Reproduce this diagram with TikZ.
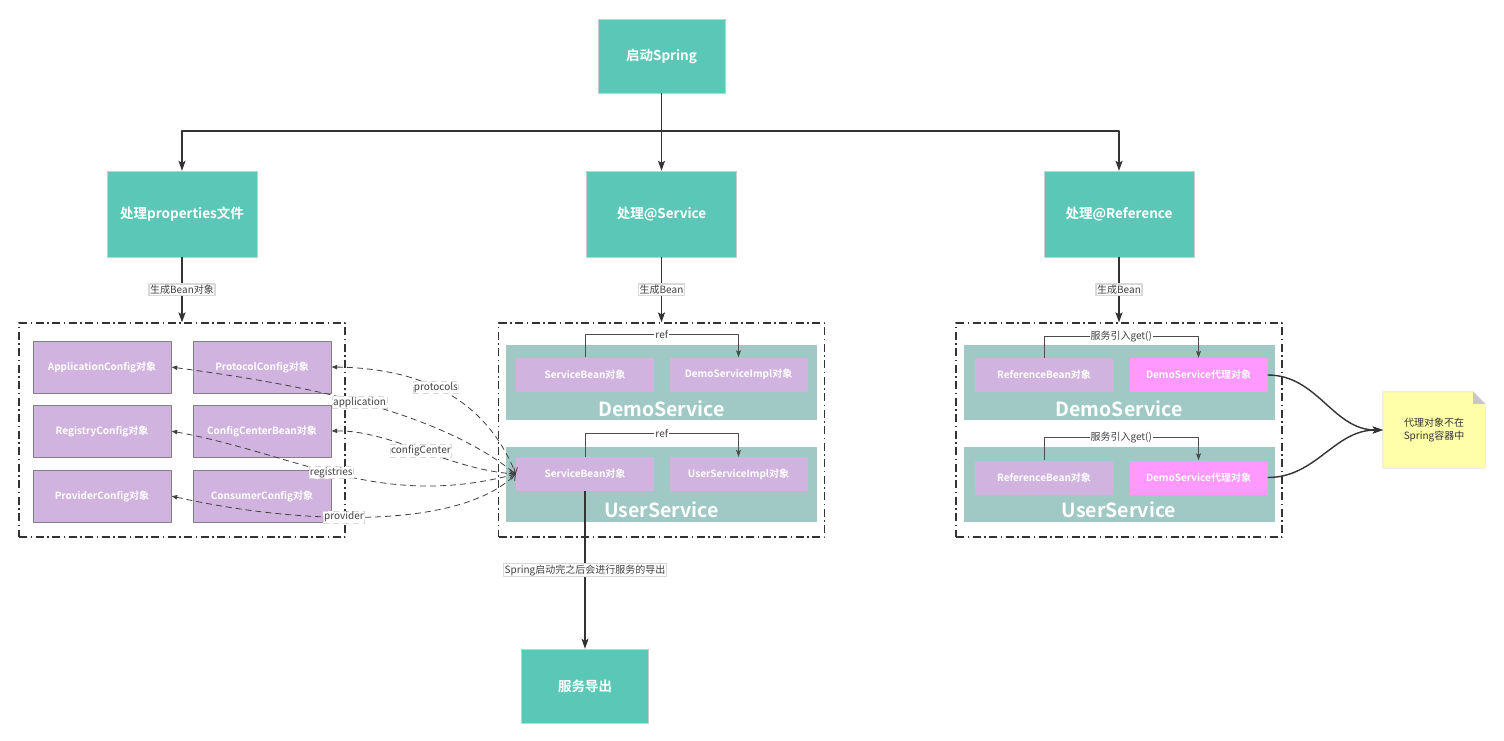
\documentclass[tikz,border=0pt]{standalone}
\usepackage{fontspec}
\setmainfont{Noto Sans CJK SC}[BoldFont={Noto Sans CJK SC Bold}]
\usetikzlibrary{arrows.meta,calc,positioning,backgrounds}
\definecolor{topteal}{RGB}{91,200,183}
\definecolor{grpteal}{RGB}{160,201,198}
\definecolor{lilac}{RGB}{209,179,223}
\definecolor{pinky}{RGB}{255,153,255}
\definecolor{noteyel}{RGB}{255,255,170}
\definecolor{line}{RGB}{51,51,51}
\begin{document}
\begin{tikzpicture}[x=1pt, y=-1pt, line join=round, >={Stealth[length=10pt,width=7pt,inset=2pt]},
	topbox/.style={draw=black!20, fill=topteal, text=white, font=\bfseries\fontsize{13.5}{15}\selectfont, minimum width=150pt, minimum height=86pt, inner sep=0pt},
	dashframe/.style={draw=line, line width=1.2pt, dash pattern=on 8pt off 3.5pt on 1.5pt off 3.5pt, minimum width=326pt, minimum height=214pt, inner sep=0pt},
	cfgbox/.style={draw=black!50, fill=lilac, text=white, font=\bfseries\fontsize{10}{12}\selectfont, minimum width=138pt, minimum height=52pt, inner sep=0pt},
	grp/.style={fill=grpteal, minimum width=311pt, minimum height=75pt, inner sep=0pt},
	biglbl/.style={text=white, font=\bfseries\fontsize{19.5}{21}\selectfont, inner sep=0pt},
	inbox/.style={fill=lilac, text=white, font=\bfseries\fontsize{10}{12}\selectfont, minimum width=138pt, minimum height=34pt, inner sep=0pt},
	pxbox/.style={inbox, fill=pinky},
	main/.style={draw=line, line width=1.4pt, ->},
	refln/.style={draw=black!70, line width=0.8pt, -{Stealth[length=7pt,width=5pt,inset=1.5pt]}},
	elbl/.style={fill=white, draw=black!15, text=black!75, font=\fontsize{10}{12}\selectfont, inner sep=1pt},
	reflbl/.style={elbl, draw=none},
	dsh/.style={draw=black!75, line width=0.8pt, dash pattern=on 6pt off 4pt, {Latex[length=6pt,width=5pt]}-{Straight Barb[length=5pt,width=8pt]}}]
\useasboundingbox (0,0) rectangle (1504,741);
% top row
\node[topbox, minimum width=127pt, minimum height=74pt] (spring) at (661.5,56) {启动Spring};
\node[topbox] (prop) at (182,214) {处理properties文件};
\node[topbox] (svc) at (661.5,214) {处理@Service};
\node[topbox] (refr) at (1119,214) {处理@Reference};
\node[topbox, minimum width=127pt, minimum height=74pt] (export) at (585,686) {服务导出};
% frames
\foreach \n/\x in {cfgf/182, svcf/661.5, reff/1119}
	\node[dashframe] (\n) at (\x,430) {};
% config objects
\foreach \n/\x/\y/\t in {app/102/367/ApplicationConfig, proto/262/367/ProtocolConfig, reg/102/431/RegistryConfig, cc/262/431/ConfigCenterBean, prov/102/496/ProviderConfig, cons/262/496/ConsumerConfig}
	\node[cfgbox] (\n) at (\x,\y) {\t 对象};
% service groups
\foreach \n/\x/\y/\t/\ly in {g1/661.5/382.5/DemoService/409, g2/661.5/484/UserService/510, g3/1119/382.5/DemoService/409, g4/1119/484/UserService/510}{
	\node[grp] (\n) at (\x,\y) {};
	\node[biglbl] (\n l) at (\x,\ly) {\t};
}
\node[inbox] (sb1) at (585,374.5) {ServiceBean对象};
\node[inbox] (impl1) at (738.5,374.5) {DemoServiceImpl对象};
\node[inbox] (sb2) at (585,474) {ServiceBean对象};
\node[inbox] (impl2) at (738.5,474) {UserServiceImpl对象};
\node[inbox] (rb1) at (1044,375) {ReferenceBean对象};
\node[pxbox] (px1) at (1198.5,375) {DemoService代理对象};
\node[inbox] (rb2) at (1044,477.5) {ReferenceBean对象};
\node[pxbox] (px2) at (1198.5,477.5) {DemoService代理对象};
% note
\node[text=black!80, font=\fontsize{10}{13}\selectfont, align=center, minimum width=102pt, minimum height=76pt, inner sep=0pt] (note) at (1434,430) {代理对象不在\\Spring容器中};
\begin{scope}[on background layer]
	\draw[draw=black!18, fill=noteyel] (note.north west) -- ($(note.north east)+(-12,0)$) -- ($(note.north east)+(0,12)$) -- (note.south east) -- (note.south west) -- cycle;
	\fill[black!22] ($(note.north east)+(-12,0)$) -- ($(note.north east)+(0,12)$) -- ($(note.north east)+(-12,12)$) -- cycle;
\end{scope}
% arrows
\draw[main] (spring.south) -- ++(0,38) coordinate (hub) -| (prop.north);
\draw[main] (hub) -| (refr.north);
\draw[main] (spring.south) -- (svc.north);
\draw[main] (prop.south) -- node[elbl] (e1) {生成Bean对象} (cfgf.north);
\draw[main] (svc.south) -- node[elbl] (e2) {生成Bean} (svcf.north);
\draw[main] (refr.south) -- node[elbl] (e3) {生成Bean} (reff.north);
\draw[main] (sb2.south) -- node[elbl] (e4) {Spring启动完之后会进行服务的导出} (export.north);
\draw[refln] (sb1.north) |- node[reflbl, pos=.75] (r1) {ref} ($(impl1.north)+(0,-23)$) -- (impl1.north);
\draw[refln] (sb2.north) |- node[reflbl, pos=.75] (r2) {ref} ($(impl2.north)+(0,-23)$) -- (impl2.north);
\draw[refln] (rb1.north) |- node[reflbl, pos=.75] (r3) {服务引入get()} ($(px1.north)+(0,-21)$) -- (px1.north);
\draw[refln] (rb2.north) |- node[reflbl, pos=.75] (r4) {服务引入get()} ($(px2.north)+(0,-23)$) -- (px2.north);
\draw[main] (px1.east) to[out=0, in=180] (note.west);
\draw[main] (px2.east) to[out=0, in=180] (note.west);
% config references
\draw[dsh] (proto.east) .. controls (400,368) and (480,385) .. node[elbl, pos=.5] (d1) {protocols} (sb2.west);
\draw[dsh] (app.east) .. controls (280,382) and (430,405) .. node[elbl, pos=.52] (d2) {application} (sb2.west);
\draw[dsh] (cc.east) .. controls (390,430) and (450,470) .. node[elbl, pos=.5] (d3) {configCenter} (sb2.west);
\draw[dsh] (reg.east) .. controls (300,455) and (380,510) .. node[elbl, pos=.47] (d4) {registries} (sb2.west);
\draw[dsh] (prov.east) .. controls (300,525) and (460,530) .. node[elbl, pos=.43] (d5) {provider} (sb2.west);
\end{tikzpicture}
\end{document}
